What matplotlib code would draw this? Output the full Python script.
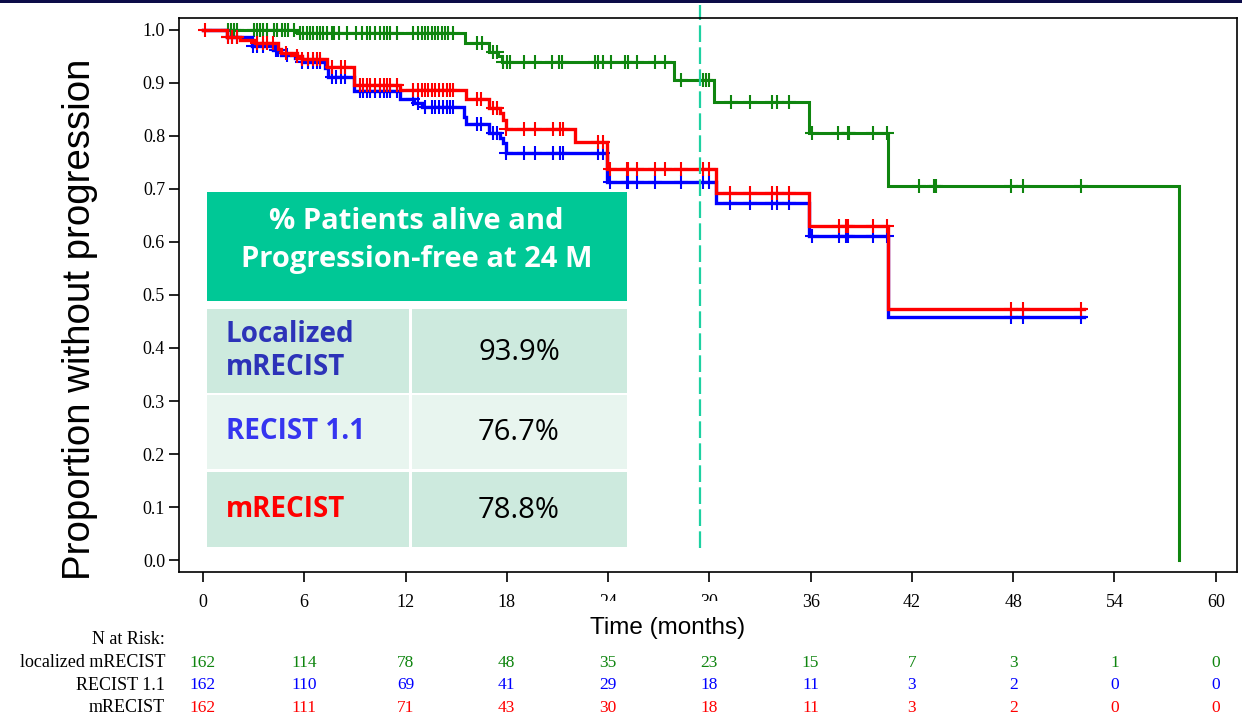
import numpy as np
import matplotlib
matplotlib.use("Agg")
import matplotlib.pyplot as plt
from matplotlib.patches import Rectangle
from matplotlib import transforms

W, H = 1242, 721

# --- Kaplan-Meier curves (months, proportion) ---
green_t = [0, 5.55, 15.5, 16.95, 17.5, 17.7, 27.9, 30.3, 35.9, 40.6, 57.8]
green_s = [1.0, 0.994, 0.976, 0.959, 0.950, 0.940, 0.906, 0.865, 0.806, 0.706, 0.0]
green_cens = [1.5, 1.66, 1.85, 2.0, 3.04, 3.18, 3.38, 3.57, 3.77, 4.23, 4.37, 4.7, 4.86,
              5.05, 5.41, 5.75, 5.94, 6.14, 6.34, 6.54, 6.74, 6.93, 7.13, 7.33, 7.62,
              7.78, 8.06, 8.51, 9.05, 9.4, 9.7, 9.9, 10.2, 10.5, 10.7, 10.9, 11.1, 11.5,
              12.44, 12.74, 12.97, 13.15, 13.33, 13.57, 13.74, 13.92, 14.16, 14.34,
              14.51, 14.8, 16.23, 16.53, 17.18, 17.42, 17.8, 18.0, 18.2, 19.0, 19.7,
              20.7, 21.1, 21.3, 23.2, 23.4, 23.7, 24.2, 25.0, 25.2, 25.7, 26.8, 27.4,
              28.3, 29.6, 29.8, 30.0, 31.3, 32.4, 33.7, 34.0, 34.7, 36.1, 37.6, 38.2,
              38.3, 39.7, 40.5, 42.4, 43.3, 43.4, 47.9, 48.6, 52.0]

blue_t = [0, 1.4, 2.88, 4.17, 4.6, 5.45, 5.85, 7.23, 7.43, 8.96, 11.67, 12.5, 12.96,
          15.46, 15.6, 16.96, 17.6, 17.8, 17.95, 23.95, 30.4, 35.9, 40.6, 52.2]
blue_s = [1.0, 0.987, 0.970, 0.962, 0.953, 0.947, 0.939, 0.928, 0.912, 0.884, 0.870,
          0.863, 0.855, 0.836, 0.823, 0.806, 0.796, 0.786, 0.767, 0.714, 0.673, 0.611,
          0.459, 0.459]
blue_cens = [1.5, 1.7, 2.0, 2.95, 3.18, 3.57, 4.3, 4.45, 5.0, 5.85, 6.24, 6.54, 6.74,
             6.93, 7.62, 7.9, 8.2, 8.4, 9.3, 9.5, 9.7, 9.9, 10.2, 10.5, 10.7, 10.9,
             11.1, 11.5, 12.46, 12.76, 13.15, 13.55, 13.74, 14.0, 14.2, 14.44, 14.63,
             14.83, 16.25, 16.45, 17.2, 17.4, 17.98, 19.0, 19.67, 20.75, 21.15, 21.35,
             23.42, 23.71, 24.1, 25.1, 25.2, 25.7, 26.8, 28.3, 29.6, 30.0, 31.2, 32.4,
             33.7, 34.0, 34.7, 36.1, 37.7, 38.1, 38.2, 39.7, 40.5, 47.9, 48.6, 52.0]

red_t = [0, 1.4, 2.2, 3.1, 4.46, 4.6, 5.55, 5.85, 7.33, 8.96, 11.67, 15.58, 16.96,
         17.6, 17.8, 17.95, 22.04, 23.95, 30.4, 35.9, 40.6, 52.2]
red_s = [1.0, 0.987, 0.981, 0.975, 0.964, 0.956, 0.950, 0.945, 0.931, 0.897, 0.886,
         0.869, 0.852, 0.843, 0.831, 0.813, 0.789, 0.737, 0.693, 0.630, 0.473, 0.473]
red_cens = [0.1, 1.5, 1.7, 2.0, 3.18, 3.57, 3.77, 4.17, 4.9, 5.6, 5.85, 6.24, 6.54,
            6.74, 6.93, 7.62, 8.2, 8.4, 9.3, 9.5, 9.7, 9.9, 10.2, 10.5, 10.7, 10.9,
            11.1, 11.5, 12.46, 12.76, 12.96, 13.15, 13.35, 13.55, 13.74, 14.0, 14.2,
            14.44, 14.63, 14.83, 16.25, 16.45, 17.2, 17.4, 17.98, 19.0, 19.67, 20.75,
            21.15, 21.35, 23.42, 23.71, 24.1, 25.1, 25.2, 25.7, 26.8, 27.4, 28.3, 29.6,
            30.0, 31.2, 32.4, 33.7, 34.0, 34.7, 37.7, 38.1, 38.2, 39.7, 40.5, 47.9,
            48.6, 52.0]

# --- number at risk table ---
risk_times = [0, 6, 12, 18, 24, 30, 36, 42, 48, 54, 60]
risk_names = ["localized mRECIST", "RECIST 1.1", "mRECIST"]
risk_green = [162, 114, 78, 48, 35, 23, 15, 7, 3, 1, 0]
risk_blue = [162, 110, 69, 41, 29, 18, 11, 3, 2, 0, 0]
risk_red = [162, 111, 71, 43, 30, 18, 11, 3, 2, 0, 0]

# --- overlay table ---
tbl_header = "% Patients alive and\nProgression-free at 24 M"
tbl_labels = ["Localized\nmRECIST", "RECIST 1.1", "mRECIST"]
tbl_values = ["93.9%", "76.7%", "78.8%"]

GREEN = "#0f850f"
BLUE = "#0000ff"
RED = "#ff0000"


def fx(x):
    return x / W


def fy(y):
    return 1 - y / H


def surv_at(times, surv, t):
    i = np.searchsorted(times, t, side="right") - 1
    return np.asarray(surv)[i]


fig = plt.figure(figsize=(W / 100, H / 100), dpi=100)
ax = fig.add_axes([fx(179), fy(572), fx(1237) - fx(179), fy(18.3) - fy(572)])

for t, s, c, col, lw in [(green_t, green_s, green_cens, GREEN, 2.2),
                         (blue_t, blue_s, blue_cens, BLUE, 2.4),
                         (red_t, red_s, red_cens, RED, 2.4)]:
    ax.step(t, s, where="post", color=col, lw=lw, solid_joinstyle="miter")
    ax.plot(c, surv_at(t, s, c), ls="none", marker="+", ms=10, mew=1.5, color=col)

# dashed marker line (slide overlay), extends above the frame
ax.plot([29.44, 29.44], [0.0226, 1.047], color="#1dd1a1", lw=1.6,
        dashes=(7.5, 2.4), clip_on=False)

ax.set_xlim(-1.42, 61.26)
ax.set_ylim(-0.0226, 1.022)
ax.set_xticks(risk_times)
ax.set_yticks(np.arange(0, 1.01, 0.1))
ax.set_yticklabels([f"{v:.1f}" for v in np.arange(0, 1.01, 0.1)])
for lab in ax.get_xticklabels() + ax.get_yticklabels():
    lab.set_fontfamily("Liberation Serif")
    lab.set_fontsize(13)
ax.tick_params(direction="out", length=7, width=1.2, colors="black")
ax.tick_params(axis="x", pad=9)
ax.tick_params(axis="y", pad=3)
for sp in ax.spines.values():
    sp.set_linewidth(1.2)

# axis labels
fig.text(fx(80), fy(319), "Proportion without progression", rotation=90,
         ha="center", va="center", fontsize=27.6, family="Liberation Sans")
fig.add_artist(Rectangle((fx(585), fy(650)), fx(170), 49 / H, transform=fig.transFigure,
                         fc="white", ec="none", zorder=3))
fig.text(fx(668), fy(628), "Time (months)", ha="center", va="center", fontsize=17.5,
         family="Liberation Sans", zorder=4)

# number at risk
blend = transforms.blended_transform_factory(ax.transData, fig.transFigure)
fig.text(fx(165), fy(640), "N at Risk:", ha="right", va="center", fontsize=13,
         family="Liberation Serif")
row_y = [662.7, 685, 707.7]
for name, vals, col, y in zip(risk_names, [risk_green, risk_blue, risk_red],
                              [GREEN, BLUE, RED], row_y):
    fig.text(fx(165), fy(y), name, ha="right", va="center", fontsize=13,
             family="Liberation Serif")
    for t, v in zip(risk_times, vals):
        ax.text(t, fy(y), str(v), transform=blend, ha="center", va="center",
                fontsize=12.5, family="Liberation Serif", color=col, clip_on=False)

# overlay table
def box(x0, y0, x1, y1, color):
    fig.add_artist(Rectangle((fx(x0), fy(y1)), fx(x1) - fx(x0), fy(y0) - fy(y1),
                             transform=fig.transFigure, fc=color, ec="none", zorder=2))

box(206.7, 191.7, 626.7, 300.7, "#00c896")
fig.text(fx(416.7), fy(221.5), tbl_header.split("\n")[0], ha="center", va="center",
         color="white", fontsize=21, fontweight="bold", family="Open Sans", zorder=5)
fig.text(fx(416.7), fy(259.5), tbl_header.split("\n")[1], ha="center", va="center",
         color="white", fontsize=21, fontweight="bold", family="Open Sans", zorder=5)

rows = [(309, 393), (395, 469), (472, 547)]
fills = ["#cdeade", "#e8f5ef", "#cdeade"]
label_cols = ["#2c33b8", "#3535f0", "#ff0000"]
for (y0, y1), fc, lab, val, lc in zip(rows, fills, tbl_labels, tbl_values, label_cols):
    box(206.7, y0, 409, y1, fc)
    box(411.7, y0, 626.7, y1, fc)
    yc = (y0 + y1) / 2
    fig.text(fx(226), fy(yc), lab, ha="left", va="center", color=lc, fontsize=20,
             fontweight="bold", family="Open Sans", linespacing=1.15, zorder=5)
    fig.text(fx(519), fy(yc + 1), val, ha="center", va="center", color="black",
             fontsize=21, family="Open Sans", zorder=5)

# dark slide edge at the very top
fig.add_artist(Rectangle((0, fy(2.5)), 1, 2.5 / H, transform=fig.transFigure,
                         fc="#0c0c48", ec="none", zorder=6))

fig.savefig("out.png", dpi=100)
